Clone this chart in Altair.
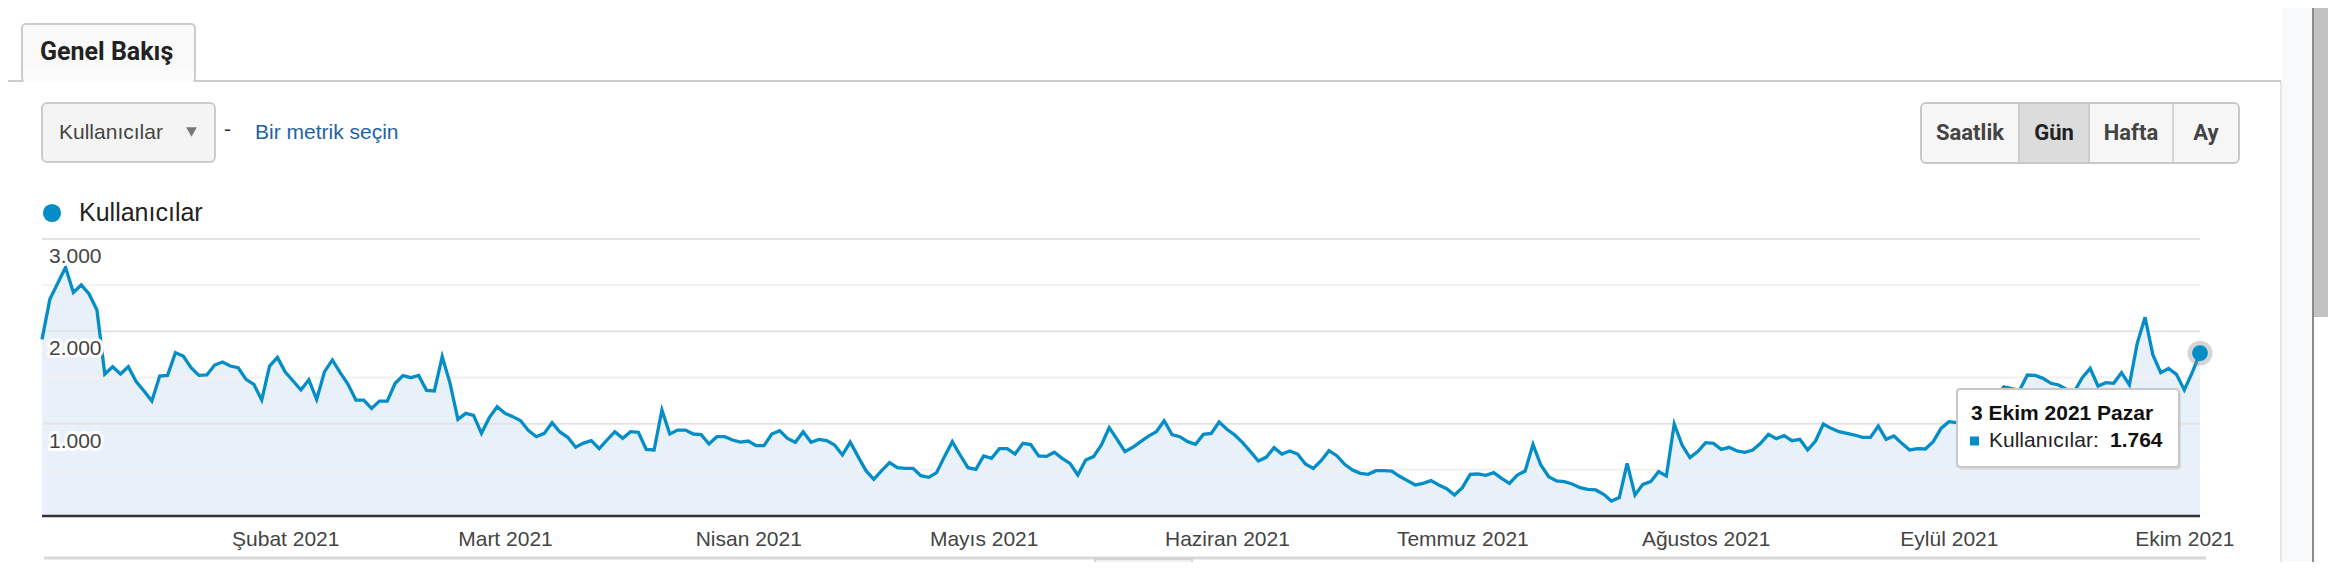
import json
import altair as alt
import pandas as pd

# ---------------- data (daily users) ----------------
jan = [1913, 2346, 2520, 2693, 2422, 2502, 2404, 2231, 1538, 1617, 1538, 1617, 1455, 1354, 1245, 1516,
       1523, 1769, 1733, 1606, 1523, 1527, 1635, 1668, 1624, 1606, 1480, 1426, 1256, 1624, 1718]
feb = [1560, 1462, 1365, 1476, 1264, 1563, 1690, 1552, 1426, 1256, 1256, 1166, 1245, 1245, 1437, 1520,
       1498, 1523, 1361, 1354, 1726, 1437, 1047, 1112, 1090, 895, 1065, 1184]
mar = [1112, 1076, 1032, 924, 859, 895, 1011, 910, 852, 745, 790, 816, 729, 823, 913, 841,
       913, 906, 722, 715, 1148, 888, 931, 931, 888, 881, 780, 859, 859, 823, 801]
apr = [812, 762, 762, 888, 924, 841, 798, 913, 798, 830, 816, 769, 661, 800, 643, 491,
       397, 491, 578, 523, 516, 516, 437, 419, 469, 643, 805, 661, 523, 505]
may = [650, 625, 729, 729, 671, 787, 773, 650, 646, 690, 625, 570, 444, 606, 643, 769,
       957, 830, 697, 744, 805, 866, 913, 1032, 881, 859, 805, 776, 884, 895, 1018]
jun = [939, 877, 794, 697, 596, 635, 740, 671, 704, 671, 563, 516, 599, 708, 653, 560,
       498, 462, 451, 491, 491, 486, 430, 383, 336, 354, 383, 336, 296, 227]
jul = [307, 451, 455, 440, 469, 408, 354, 444, 487, 776, 552, 426, 379, 372, 347, 307,
       289, 282, 235, 162, 199, 570, 227, 343, 372, 480, 433, 996, 769, 632, 697]
aug = [794, 787, 722, 744, 704, 690, 715, 787, 884, 838, 870, 816, 830, 715, 812, 996,
       949, 913, 895, 877, 852, 852, 975, 830, 866, 787, 715, 729, 726, 805, 949]
sep = [1022, 1011, 985, 1080, 1040, 1180, 1290, 1400, 1380, 1360, 1527, 1523, 1491, 1437, 1419, 1372,
       1350, 1498, 1599, 1408, 1444, 1437, 1552, 1419, 1870, 2152, 1744, 1552, 1599, 1534]
oct_ = [1365, 1552, 1764]

users = jan + feb + mar + apr + may + jun + jul + aug + sep + oct_
start_date = "2021-01-01"

months_tr = ["Ocak", "Şubat", "Mart", "Nisan", "Mayıs", "Haziran",
             "Temmuz", "Ağustos", "Eylül", "Ekim", "Kasım", "Aralık"]
days_tr = ["Pazartesi", "Salı", "Çarşamba", "Perşembe", "Cuma", "Cumartesi", "Pazar"]
tick_months = [2, 3, 4, 5, 6, 7, 8, 9, 10]

grid_major = [1000, 2000, 3000]
grid_minor = [500, 1500, 2500]
y_label_vals = [1000, 2000, 3000]

metric = "Kullanıcılar"
buttons = ["Saatlik", "Gün", "Hafta", "Ay"]


def tr_num(v):
    return f"{v:,}".replace(",", ".")


dates = pd.date_range(start_date, periods=len(users), freq="D")
df = pd.DataFrame({"date": dates, "users": users})
last = df.tail(1)
last_date = dates[-1]
tip_title = f"{last_date.day} {months_tr[last_date.month - 1]} {last_date.year} {days_tr[last_date.weekday()]}"
tip_value = tr_num(users[-1])

ylab_df = pd.DataFrame({"v": y_label_vals, "t": [tr_num(v) for v in y_label_vals]})
gmaj_df = pd.DataFrame({"v": grid_major})
gmin_df = pd.DataFrame({"v": grid_minor})
zero_df = pd.DataFrame({"v": [0]})
one = pd.DataFrame({"a": [0]})

# ---------------- scales ----------------
BLUE = "#058dc7"
W, H = 2158, 277
OX, OY = 42, 239  # page position of plot origin

xscale = alt.Scale(domain=[alt.DateTime(year=2021, month=1, date=1),
                           alt.DateTime(year=2021, month=10, date=3)], nice=False)
yscale = alt.Scale(domain=[0, 3000], nice=False, zero=True)

label_expr = (json.dumps(months_tr, ensure_ascii=False)
              + "[month(datum.value)] + ' ' + year(datum.value)")
xaxis = alt.Axis(values=[alt.DateTime(year=2021, month=m, date=1) for m in tick_months],
                 labelExpr=label_expr, ticks=False, domain=False, grid=False, title=None,
                 labelFont="Liberation Sans", labelFontSize=21, labelColor="#444444",
                 labelPadding=23, labelBaseline="middle", labelFlush=False, labelOverlap=False,
                 labelAlign="center")
X = alt.X("date:T", scale=xscale, axis=xaxis)
Y = alt.Y("users:Q", scale=yscale, axis=None)
YV = alt.Y("v:Q", scale=yscale, axis=None)

area = alt.Chart(df).mark_area(color="#e8f1f9").encode(x=X, y=Y)
gminor = alt.Chart(gmin_df).mark_rule(color="#f1f1f1", strokeWidth=2).encode(y=YV)
gmajor = alt.Chart(gmaj_df).mark_rule(color="#e4e4e4", strokeWidth=2).encode(y=YV)
baseline = alt.Chart(zero_df).mark_rule(color="#333333", strokeWidth=2.5).encode(y=YV)
line = alt.Chart(df).mark_line(color=BLUE, strokeWidth=3.3).encode(x=X, y=Y)
ylab_halo = alt.Chart(ylab_df).mark_text(
    align="left", baseline="middle", dy=18, font="Liberation Sans", fontSize=21,
    stroke="white", strokeWidth=6, strokeJoin="round", color="white"
).encode(x=alt.value(7), y=YV, text="t:N")
ylab = alt.Chart(ylab_df).mark_text(
    align="left", baseline="middle", dy=18, font="Liberation Sans", fontSize=21, color="#444444"
).encode(x=alt.value(7), y=YV, text="t:N")
halo = alt.Chart(last).mark_point(filled=True, shape="circle", size=620, color="#888888",
                                  opacity=0.35).encode(x=X, y=Y)
dot = alt.Chart(last).mark_point(filled=True, shape="circle", size=250, color=BLUE,
                                 opacity=1).encode(x=X, y=Y)


# ---------------- page decoration helpers (page pixel coordinates) ----------------
def rect(x1, y1, x2, y2, fill, stroke=None, sw=1, r=0, fo=1.0):
    props = dict(fill=fill, fillOpacity=fo)
    if stroke:
        props.update(stroke=stroke, strokeWidth=sw)
    else:
        props.update(strokeWidth=0)
    if r:
        props["cornerRadius"] = r
    return alt.Chart(one).mark_rect(**props).encode(
        x=alt.value(x1 - OX), x2=alt.value(x2 - OX), y=alt.value(y1 - OY), y2=alt.value(y2 - OY))


def hline(x1, x2, y, color, sw=1):
    return alt.Chart(one).mark_rule(color=color, strokeWidth=sw).encode(
        x=alt.value(x1 - OX), x2=alt.value(x2 - OX), y=alt.value(y - OY))


def vline(x, y1, y2, color, sw=1):
    return alt.Chart(one).mark_rule(color=color, strokeWidth=sw).encode(
        x=alt.value(x - OX), y=alt.value(y1 - OY), y2=alt.value(y2 - OY))


def text(x, y, s, size, color, font="Liberation Sans", weight="normal", align="left"):
    return alt.Chart(one).mark_text(text=s, fontSize=size, font=font, fontWeight=weight,
                                    color=color, align=align, baseline="middle").encode(
        x=alt.value(x - OX), y=alt.value(y - OY))


def sym(x, y, shape, size, color, opacity=1.0):
    return alt.Chart(one).mark_point(shape=shape, size=size, filled=True, color=color,
                                     opacity=opacity).encode(
        x=alt.value(x - OX), y=alt.value(y - OY))


deco_back = [
    # right side panel and scrollbar
    rect(2282, 0, 2312, 570, "#f8f9fa"),
    vline(2281, 81, 570, "#dddddd", 1.5),
    vline(2313, 0, 570, "#8c8c8c", 2),
    rect(2314, 0, 2336, 317, "#c2c2c2"),
    # tab (open at the bottom, joined to the content)
    hline(0, 2281, 81, "#cccccc", 2),
    rect(22, 24, 195, 81, "#f9f9f9", "#cccccc", 2, 4),
    rect(23.5, 70, 193.5, 83, "#fbfbfb"),
    text(40, 52, "Genel Bakış", 25, "#222222", font="Roboto", weight="bold"),
    # metric dropdown
    rect(42, 103, 215, 162, "#f4f4f4", "#cccccc", 2, 5),
    text(59, 133, metric, 21, "#444444"),
    sym(191.5, 132, "triangle-down", 115, "#777777"),
    text(224, 130, "-", 21, "#333333"),
    text(255, 133, "Bir metrik seçin", 21, "#1e63a6"),
    # period buttons
    rect(1921, 103, 2239, 163, "#f6f6f6", "#c8c8c8", 2, 5),
    rect(2020, 104, 2089, 162, "#dcdcdc"),
    vline(2019, 104, 162, "#cccccc", 2),
    vline(2089, 104, 162, "#cccccc", 2),
    vline(2173, 104, 162, "#d4d4d4", 2),
    text(1970, 133, buttons[0], 22, "#444444", font="Roboto", weight="bold", align="center"),
    text(2054, 133, buttons[1], 22, "#222222", font="Roboto", weight="bold", align="center"),
    text(2131, 133, buttons[2], 22, "#444444", font="Roboto", weight="bold", align="center"),
    text(2206, 133, buttons[3], 22, "#444444", font="Roboto", weight="bold", align="center"),
    # legend
    sym(52, 213, "circle", 330, BLUE),
    text(79, 213, metric, 25, "#222222"),
    # bottom rule and small tab
    hline(44, 2206, 558, "#d9d9d9", 3),
    rect(1095, 559, 1192, 580, "#f1f1f1", "#cccccc", 1.5),
]

deco_front = [
    # tooltip
    rect(1959, 392, 2181, 470, "#000000", fo=0.08, r=3),
    rect(1957, 389, 2179, 467, "#ffffff", "#c8c8c8", 2, 3),
    text(1971, 414, tip_title, 21, "#111111", weight="bold"),
    sym(1974.5, 441, "square", 81, BLUE),
    text(1989, 441, metric + ":", 21, "#222222"),
    text(2110, 441, tip_value, 21, "#111111", weight="bold"),
]

chart = alt.layer(
    *deco_back, area, gminor, gmajor, baseline, line, ylab_halo, ylab, halo, dot, *deco_front
).properties(
    width=W, height=H,
    autosize=alt.AutoSizeParams(type="none"),
    padding={"left": OX - 8, "top": OY - 8, "right": 2320 - (OX - 8) - W, "bottom": 554 - (OY - 8) - H},
    background="#ffffff",
).configure_view(strokeWidth=0)

chart.save("out.html", embed_options={"renderer": "svg", "actions": False})
